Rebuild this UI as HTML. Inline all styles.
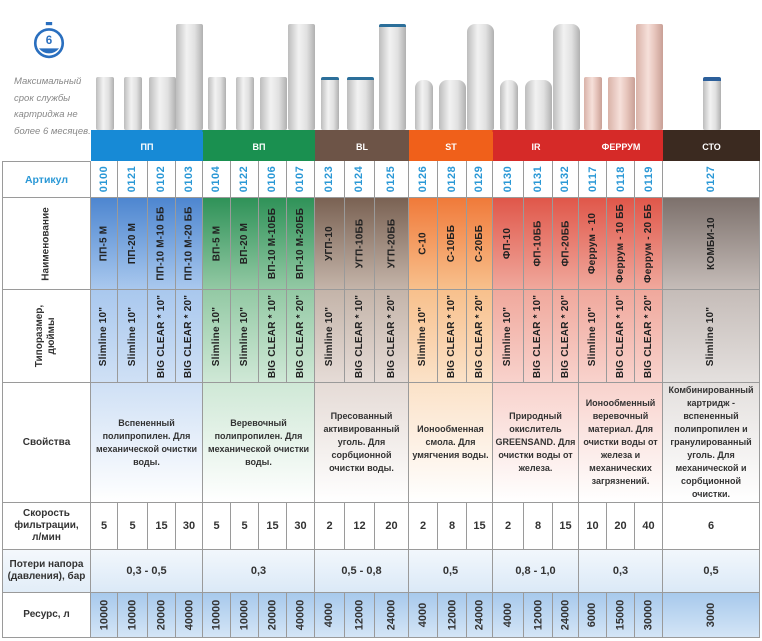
<!DOCTYPE html>
<html><head><meta charset="utf-8">
<style>
*{margin:0;padding:0;box-sizing:border-box}
body{width:762px;height:641px;background:#fff;position:relative;overflow:hidden;font-family:"Liberation Sans","DejaVu Sans",sans-serif;color:#333}
.a{position:absolute}
.cell{position:absolute;border-right:1px solid #9a9a9a;border-bottom:1px solid #9a9a9a;display:flex;align-items:center;justify-content:center;text-align:center}
.rot{transform:rotate(-90deg);white-space:nowrap}
.lab{font-size:10px;font-weight:bold;color:#333;line-height:12px}
.v{font-size:10px;color:#2a2a2a;font-weight:bold;letter-spacing:.2px}
.art{font-size:11px;color:#2a98d6;font-weight:bold;letter-spacing:.5px}
.prop{font-size:9px;font-weight:bold;color:#333;line-height:13px}
.num{font-size:11px;font-weight:bold;color:#333}
.cart{position:absolute;border-radius:2px;background:linear-gradient(90deg,#bdbdbd,#f2f2f2 40%,#e0e0e0 70%,#b0b0b0)}
</style></head><body>
<div class="a" style="left:33px;top:22px;width:32px;height:37px">
<svg width="32" height="37" viewBox="0 0 30 35"><rect x="12" y="0" width="6" height="3" fill="#2a6fbf"/><circle cx="15" cy="20" r="13" fill="#fff" stroke="#2a6fbf" stroke-width="2.5"/><path d="M5.5 25 A12 12 0 0 0 24.5 25 Z" fill="#2a6fbf"/><text x="15" y="21" font-size="11" font-weight="bold" fill="#2a6fbf" text-anchor="middle" font-family="Liberation Sans">6</text></svg></div>
<div class="a" style="left:14px;top:74px;width:80px;font-size:9.5px;font-style:italic;color:#888;line-height:16.5px">Максимальный срок службы картриджа не более 6 месяцев.</div>
<div id="root"></div>
<script>
const edges=[91,118,148,176,203,231,259,287,315,345,375,409,438,467,493,524,553,579,607,635,663,760];
const articles=["0100","0121","0102","0103","0104","0122","0106","0107","0123","0124","0125","0126","0128","0129","0130","0131","0132","0117","0118","0119","0127"];
const names=["ПП-5 М","ПП-20 М","ПП-10 М-10 ББ","ПП-10 М-20 ББ","ВП-5 М","ВП-20 М","ВП-10 М-10ББ","ВП-10 М-20ББ","УГП-10","УГП-10ББ","УГП-20ББ","С-10","С-10ББ","С-20ББ","ФП-10","ФП-10ББ","ФП-20ББ","Феррум - 10","Феррум - 10 ББ","Феррум - 20 ББ","КОМБИ-10"];
const sizes=["Slimline 10\"","Slimline 10\"","BIG CLEAR * 10\"","BIG CLEAR * 20\"","Slimline 10\"","Slimline 10\"","BIG CLEAR * 10\"","BIG CLEAR * 20\"","Slimline 10\"","BIG CLEAR * 10\"","BIG CLEAR * 20\"","Slimline 10\"","BIG CLEAR * 10\"","BIG CLEAR * 20\"","Slimline 10\"","BIG CLEAR * 10\"","BIG CLEAR * 20\"","Slimline 10\"","BIG CLEAR * 10\"","BIG CLEAR * 20\"","Slimline 10\""];
const speeds=["5","5","15","30","5","5","15","30","2","12","20","2","8","15","2","8","15","10","20","40","6"];
const resources=["10000","10000","20000","40000","10000","10000","20000","40000","4000","12000","24000","4000","12000","24000","4000","12000","24000","6000","15000","30000","3000"];
const groups=[[0,3],[4,7],[8,10],[11,13],[14,16],[17,19],[20,20]];
const groupTabs=["ПП","ВП","BL","ST","IR","ФЕРРУМ","СТО"];
const tabColors=["#178ad6","#1a9050","#6d5447","#f0601a","#d62a28","#d62a28","#3b2a20"];
const bodyTop=["#4d86d0","#2f9258","#7a6253","#f07a3a","#e0574a","#e0574a","#7d716c"];
const bodyBot=["#a9c8ee","#93c9a4","#c4b4a9","#f8c08c","#f0a89c","#f0a89c","#c5bcb8"];
const propTint=["#cfe0f5","#cfe8d6","#e5dbd6","#fbe2c8","#f8d2cc","#f8d2cc","#e4e0de"];
const props=["Вспененный полипропилен. Для механической очистки воды.","Веревочный полипропилен. Для механической очистки воды.","Пресованный активированный уголь. Для сорбционной очистки воды.","Ионообменная смола. Для умягчения воды.","Природный окислитель GREENSAND. Для очистки воды от железа.","Ионообменный веревочный материал. Для очистки воды от железа и механических загрязнений.","Комбинированный картридж - вспененный полипропилен и гранулированный уголь. Для механической и сорбционной очистки."];
const losses=["0,3 - 0,5","0,3","0,5 - 0,8","0,5","0,8 - 1,0","0,3","0,5"];
const rowY=[161,198,290,383,503,550,593,638];
const root=document.getElementById('root');
function mk(x,y,w,h,cls,html,style){const d=document.createElement('div');d.className=cls;d.style.left=x+'px';d.style.top=y+'px';d.style.width=w+'px';d.style.height=h+'px';if(style)d.style.cssText+=style;d.innerHTML=html;root.appendChild(d);return d;}
function groupOf(i){for(let g=0;g<groups.length;g++)if(i>=groups[g][0]&&i<=groups[g][1])return g;}
for(let i=0;i<21;i++){const g=groupOf(i);const s=sizes[i];const cx=(edges[i]+edges[i+1])/2;const big=s.indexOf('BIG')>=0;const tall=s.indexOf('20')>=0;const w=big?27:18;const top=tall?24:(g==3||g==4?80:77);
const c=mk(cx-w/2,top,w,130-top,'cart','',(g==5?'background:linear-gradient(90deg,#d9b2a8,#f6e0da 45%,#e6c4bb 70%,#c9a096);':'')+(g==2?'border-top:3px solid #2c6f9a;':'')+(g==6?'border-top:4px solid #2c5f9a;':'')+(g==3||g==4?'border-radius:8px 8px 2px 2px;':''));

}
const bl=mk(91,130,669,3,'a','','background:linear-gradient(90deg,#178ad6 0 16.7%,#1a9050 16.7% 33.5%,#6d5447 33.5% 47.5%,#f0601a 47.5% 60%,#d62a28 60% 85.5%,#3b2a20 85.5%)');


for(let g=0;g<groups.length;g++){const x=edges[groups[g][0]],x2=edges[groups[g][1]+1];
const t=mk(x,132,x2-x,29,'a','<div style="display:flex;height:100%;align-items:center;justify-content:center;color:#fff;font-size:9px;font-weight:bold">'+groupTabs[g]+'</div>','background:'+tabColors[g]);

}
const labels=['<span style="color:#2a98d6;font-size:10.5px">Артикул</span>','<div class="rot">Наименование</div>','<div class="rot">Типоразмер,<br>дюймы</div>','Свойства','Скорость<br>фильтрации,<br>л/мин','Потери напора<br>(давления), бар','Ресурс, л'];
const labelNames=['label-article','label-name','label-size','label-properties','label-speed','label-pressure-loss','label-resource'];
for(let r=0;r<7;r++){const l=mk(2,rowY[r],89,rowY[r+1]-rowY[r],'cell lab',labels[r],'border-left:1px solid #9a9a9a;'+(r==0?'border-top:1px solid #9a9a9a;':'')+(r==5?'background:linear-gradient(#f4f8fc,#e2edf8)':''));

}
for(let i=0;i<21;i++){const g=groupOf(i);const x=edges[i],w=edges[i+1]-x;
const a=mk(x,161,w,37,'cell art','<div class="rot">'+articles[i]+'</div>','background:#fff');


const n=mk(x,198,w,92,'cell v','<div class="rot">'+names[i]+'</div>','background:linear-gradient('+bodyTop[g]+','+bodyBot[g]+');color:#222'+(g==6?';border-right:1px solid #9a9a9a':''));


const s=mk(x,290,w,93,'cell v','<div class="rot">'+sizes[i]+'</div>','background:linear-gradient('+bodyBot[g]+','+propTint[g]+');color:#222');


const sp=mk(x,503,w,47,'cell num',speeds[i],'background:#fff');


const rs=mk(x,593,w,45,'cell num','<div class="rot">'+resources[i]+'</div>','background:linear-gradient(#a7c9ec,#d4e5f6)');

}
for(let g=0;g<groups.length;g++){const x=edges[groups[g][0]],w=edges[groups[g][1]+1]-x;
const p=mk(x,383,w,120,'cell prop','<div style="padding:0 2px">'+props[g]+'</div>','background:linear-gradient('+propTint[g]+',#fff)');


const lo=mk(x,550,w,43,'cell num',losses[g],'background:linear-gradient(#f2f7fc,#dbe9f7);font-weight:bold');

}
</script>
</body></html>
